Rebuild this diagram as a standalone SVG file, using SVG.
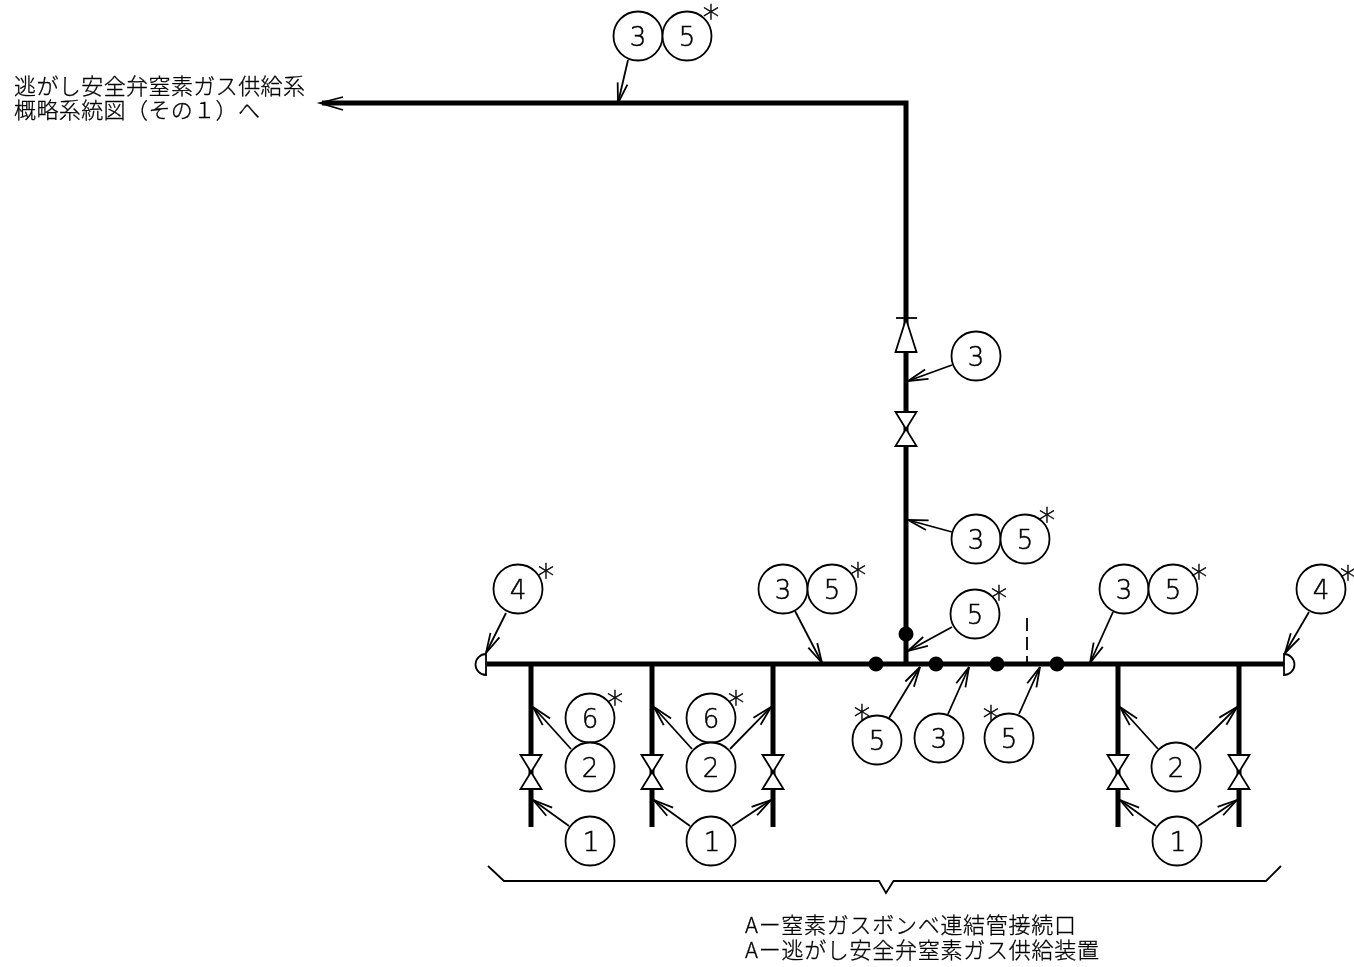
<svg xmlns="http://www.w3.org/2000/svg" width="1354" height="967" viewBox="0 0 1354 967">
<style>
.pipe{fill:none;stroke:#000;stroke-width:5}
.lead{fill:none;stroke:#000;stroke-width:1.8;marker-end:url(#barb)}
.thin{fill:none;stroke:#000;stroke-width:1.8}
.v{fill:#fff;stroke:#000;stroke-width:1.8;stroke-linejoin:miter}
.c{fill:#fff;stroke:#000;stroke-width:1.8}
.d{fill:#000}
.n{font-family:"DejaVu Sans",sans-serif;font-weight:200;font-size:26px;text-anchor:middle;fill:#000;stroke:#000;stroke-width:.5;filter:url(#gray)}
.s{font-family:"DejaVu Sans",sans-serif;font-weight:200;font-size:33px;text-anchor:middle;fill:#000;stroke:#000;stroke-width:.5;filter:url(#gray)}
.t{font-family:"Noto Sans CJK JP",sans-serif;font-weight:300;font-size:22px;fill:#000;stroke:#000;stroke-width:.3;filter:url(#gray)}
</style>
<defs>
<filter id="gray" x="-20%" y="-20%" width="140%" height="140%"><feOffset dx="0" dy="0"/></filter>
<marker id="barb" markerUnits="userSpaceOnUse" markerWidth="26" markerHeight="16" refX="22" refY="8" orient="auto" overflow="visible">
<path d="M2,3 L22,8 L2,13" fill="none" stroke="#000" stroke-width="1.8"/>
</marker>
<g id="valve"><path class="v" d="M-10.5,-17 H10.5 L-10.5,17 H10.5 Z"/></g>
</defs>
<rect width="1354" height="967" fill="#fff"/>
<g id="connectors">
<path class="pipe" d="M322,103 H906 V664"/>
<path class="pipe" d="M487,664 H1284"/>
<path class="pipe" d="M531,664 V827 M652,664 V827 M773,664 V827 M1118,664 V827 M1239,664 V827"/>
<path class="thin" d="M343,97 L320,103 L343,110"/>
<path class="thin" d="M1027,618 V664" stroke-dasharray="13 6"/>
<path class="thin" d="M488,866 L504,881 H879 L886,893 L893.500,881 H1266 L1281,866"/>
<path class="lead" d="M628,60 L618,103"/>
<path class="lead" d="M952,365 L908,381"/>
<path class="lead" d="M952,532 L908,520"/>
<path class="lead" d="M506,613 L486,653"/>
<path class="lead" d="M795,611 L822,663"/>
<path class="lead" d="M952,627 L908,651"/>
<path class="lead" d="M889,718 L920,667"/>
<path class="lead" d="M948,714 L969,667"/>
<path class="lead" d="M1019,714 L1040,667"/>
<path class="lead" d="M1113,612 L1090,663"/>
<path class="lead" d="M1309,612 L1285,653"/>
<path class="lead" d="M571,749 L533,707"/>
<path class="lead" d="M692,749 L654,707"/>
<path class="lead" d="M730,749 L771,707"/>
<path class="lead" d="M569,826 L533,800"/>
<path class="lead" d="M690,826 L654,800"/>
<path class="lead" d="M732,826 L771,800"/>
<path class="lead" d="M1158,749 L1120,707"/>
<path class="lead" d="M1195,749 L1237,707"/>
<path class="lead" d="M1156,826 L1120,800"/>
<path class="lead" d="M1198,826 L1237,800"/>
</g>
<g id="end-cap-left"><path class="v" d="M486,654 A10.500,10.500 0 0 0 486,675 Z"/></g>
<g id="end-cap-right"><path class="v" d="M1284,654 A10.500,10.500 0 0 1 1284,675 Z"/></g>
<g id="check-valve"><path class="thin" d="M896,318 H917"/><path class="v" d="M906,319 L916.500,352 H895.500 Z"/></g>
<g id="valve-main"><use href="#valve" x="906" y="429"/></g>
<g id="valve-a"><use href="#valve" x="531" y="772"/></g>
<g id="valve-b"><use href="#valve" x="652" y="772"/></g>
<g id="valve-c"><use href="#valve" x="773" y="772"/></g>
<g id="valve-d"><use href="#valve" x="1118" y="772"/></g>
<g id="valve-e"><use href="#valve" x="1239" y="772"/></g>
<g id="joints">
<circle class="d" cx="876" cy="664" r="7.500"/>
<circle class="d" cx="906" cy="634" r="7.500"/>
<circle class="d" cx="936" cy="664" r="7.500"/>
<circle class="d" cx="997" cy="664" r="7.500"/>
<circle class="d" cx="1057" cy="664" r="7.500"/>
</g>
<g id="n-top-3"><circle class="c" cx="638" cy="36" r="24.500"/><text class="n" x="638" y="46">3</text></g>
<g id="n-top-5"><circle class="c" cx="687" cy="36" r="24.500"/><text class="n" x="687" y="46">5</text><text class="s" x="711" y="29">*</text></g>
<g id="n-vert-3"><circle class="c" cx="976" cy="356" r="24.500"/><text class="n" x="976" y="366">3</text></g>
<g id="n-mid-3"><circle class="c" cx="976" cy="539" r="24.500"/><text class="n" x="976" y="549">3</text></g>
<g id="n-mid-5"><circle class="c" cx="1025" cy="539" r="24.500"/><text class="n" x="1025" y="549">5</text><text class="s" x="1047" y="532">*</text></g>
<g id="n-left-4"><circle class="c" cx="518" cy="589" r="24.500"/><text class="n" x="518" y="599">4</text><text class="s" x="546" y="588">*</text></g>
<g id="n-l-3"><circle class="c" cx="783" cy="589" r="24.500"/><text class="n" x="783" y="599">3</text></g>
<g id="n-l-5"><circle class="c" cx="832" cy="589" r="24.500"/><text class="n" x="832" y="599">5</text><text class="s" x="858" y="587">*</text></g>
<g id="n-up-5"><circle class="c" cx="975" cy="614" r="24.500"/><text class="n" x="975" y="624">5</text><text class="s" x="999" y="610">*</text></g>
<g id="n-r-3"><circle class="c" cx="1124" cy="589" r="24.500"/><text class="n" x="1124" y="599">3</text></g>
<g id="n-r-5"><circle class="c" cx="1173" cy="589" r="24.500"/><text class="n" x="1173" y="599">5</text><text class="s" x="1199" y="589">*</text></g>
<g id="n-right-4"><circle class="c" cx="1321" cy="589" r="24.500"/><text class="n" x="1321" y="599">4</text><text class="s" x="1348" y="590">*</text></g>
<g id="n-a-6"><circle class="c" cx="590" cy="718" r="24.500"/><text class="n" x="590" y="728">6</text><text class="s" x="615" y="715">*</text></g>
<g id="n-a-2"><circle class="c" cx="590" cy="767" r="24.500"/><text class="n" x="590" y="777">2</text></g>
<g id="n-a-1"><circle class="c" cx="590" cy="841" r="24.500"/><text class="n" x="591" y="851">1</text></g>
<g id="n-b-6"><circle class="c" cx="711" cy="718" r="24.500"/><text class="n" x="711" y="728">6</text><text class="s" x="736" y="715">*</text></g>
<g id="n-b-2"><circle class="c" cx="711" cy="767" r="24.500"/><text class="n" x="711" y="777">2</text></g>
<g id="n-b-1"><circle class="c" cx="711" cy="841" r="24.500"/><text class="n" x="712" y="851">1</text></g>
<g id="n-low-5a"><text class="s" x="862" y="729">*</text><circle class="c" cx="877" cy="740" r="24.500"/><text class="n" x="877" y="750">5</text></g>
<g id="n-low-3"><circle class="c" cx="939" cy="738" r="24.500"/><text class="n" x="939" y="748">3</text></g>
<g id="n-low-5b"><text class="s" x="991" y="730">*</text><circle class="c" cx="1009" cy="738" r="24.500"/><text class="n" x="1009" y="748">5</text></g>
<g id="n-c-2"><circle class="c" cx="1176" cy="767" r="24.500"/><text class="n" x="1176" y="777">2</text></g>
<g id="n-c-1"><circle class="c" cx="1177" cy="841" r="24.500"/><text class="n" x="1178" y="851">1</text></g>
<g id="label-top"><text class="t" x="14" y="94" textLength="291">逃がし安全弁窒素ガス供給系</text><text class="t" x="14" y="118" textLength="246">概略系統図（その１）へ</text></g>
<g id="label-bottom"><text class="t" x="745" y="933" textLength="331">Aー窒素ガスボンベ連結管接続口</text><text class="t" x="745" y="958" textLength="354">Aー逃がし安全弁窒素ガス供給装置</text></g>
</svg>
